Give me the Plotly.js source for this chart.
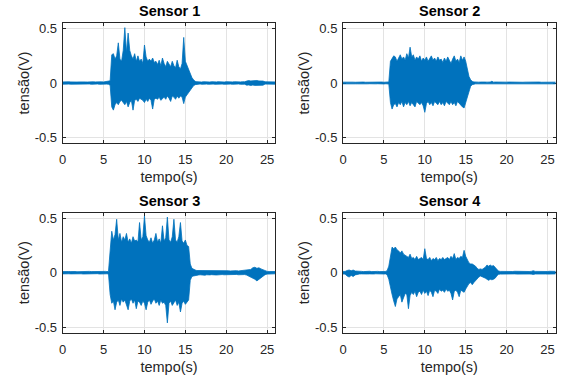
<!DOCTYPE html>
<html>
<head>
<meta charset="utf-8">
<script src="https://cdn.plot.ly/plotly-3.0.1.min.js"></script>
<style>html,body{margin:0;padding:0;background:#fff;}#chart{width:567px;height:380px;}</style>
</head>
<body>
<div id="chart"></div>
<script>
// Time grid (s) at which the signal envelope was read
const time = [0,0.25,0.5,0.75,1,1.25,1.5,1.75,2,2.25,2.5,2.75,3,3.25,3.5,3.75,4,4.25,4.5,4.75,5,5.25,
5.4,5.6,5.8,6,6.2,6.4,6.6,6.8,7,7.2,7.4,7.6,7.8,8,8.2,8.4,8.6,8.8,9,9.2,9.4,9.6,9.8,10,10.2,10.4,10.6,10.8,11,11.2,11.4,11.6,11.8,12,12.2,12.4,12.6,12.8,13,13.2,13.4,13.6,13.8,14,14.2,14.4,14.6,14.8,15,15.2,15.4,15.6,15.8,16,16.2,16.4,16.6,16.8,17,17.2,17.4,17.6,17.8,18,18.2,18.4,18.6,18.8,19,
19.25,19.5,19.75,20,20.25,20.5,20.75,21,21.25,21.5,21.75,22,22.25,22.5,22.75,23,23.25,23.5,23.75,24,24.25,24.5,24.75,25,25.25,25.5,25.75,26];

// Sensor 1 upper / lower envelope (V)
const s1_hi = [0.010,0.012,0.009,0.011,0.010,0.012,0.011,0.009,0.010,0.012,0.011,0.010,0.009,0.012,0.010,0.011,0.010,0.012,0.009,0.011,0.010,0.012,
0.011,0.012,0.02,
0.26,0.27,0.22,0.25,0.37, 0.22,0.2,0.3,0.51,0.28, 0.46,0.3,0.25,0.22,0.27, 0.2,0.25,0.2,0.22,0.18, 0.35,0.24,0.2,0.22,0.2, 0.23,0.19,0.2,0.17,0.21, 0.16,0.23,0.18,0.15,0.2, 0.18,0.15,0.2,0.16,0.14, 0.21,0.15,0.13,0.18,0.42, 0.2,0.16,0.12,0.08,0.05, 0.03,0.015,
0.012,
0.010,0.011,0.009,0.012,0.010,0.011,0.010,0.009,0.012,0.010,0.011,0.010,0.012,
0.010,0.011,0.009,0.012,0.010,0.011,0.010,0.012,0.009,0.011,0.010,0.012,0.011,
0.018,0.022,0.019,0.021,0.02,0.023,0.019,0.021,0.018,
0.011,0.010,0.012,0.010,0.011,0.010];
const s1_lo = [-0.011,-0.009,-0.012,-0.010,-0.011,-0.010,-0.012,-0.009,-0.011,-0.010,-0.012,-0.011,-0.010,-0.009,-0.012,-0.010,-0.011,-0.009,-0.012,-0.010,-0.011,-0.010,
-0.010,-0.012,-0.02,
-0.22,-0.25,-0.2,-0.18,-0.2, -0.17,-0.16,-0.18,-0.2,-0.17, -0.22,-0.18,-0.16,-0.25,-0.16, -0.15,-0.17,-0.14,-0.15,-0.16, -0.18,-0.15,-0.17,-0.14,-0.16, -0.24,-0.15,-0.14,-0.15,-0.13, -0.16,-0.14,-0.13,-0.15,-0.12, -0.14,-0.17,-0.12,-0.13,-0.15, -0.12,-0.14,-0.12,-0.13,-0.19, -0.13,-0.11,-0.09,-0.06,-0.04, -0.025,-0.015,
-0.012,
-0.011,-0.009,-0.012,-0.010,-0.011,-0.010,-0.012,-0.009,-0.011,-0.010,-0.012,-0.010,-0.011,
-0.011,-0.010,-0.012,-0.009,-0.011,-0.010,-0.012,-0.010,-0.011,-0.009,-0.012,-0.010,-0.011,
-0.02,-0.018,-0.023,-0.019,-0.022,-0.02,-0.021,-0.018,-0.02,
-0.010,-0.011,-0.009,-0.011,-0.010,-0.011];

// Sensor 2
const s2_hi = [0.008,0.009,0.007,0.008,0.009,0.008,0.007,0.009,0.008,0.008,0.009,0.007,0.008,0.009,0.008,0.007,0.009,0.008,0.008,0.009,0.007,0.008,
0.01,0.01,0.2,
0.22,0.25,0.24,0.2,0.23, 0.26,0.22,0.24,0.21,0.27, 0.23,0.33,0.24,0.26,0.21, 0.24,0.22,0.25,0.2,0.23, 0.21,0.24,0.2,0.22,0.25, 0.21,0.23,0.2,0.24,0.21, 0.22,0.19,0.23,0.2,0.24, 0.21,0.18,0.22,0.25,0.2, 0.22,0.19,0.25,0.21,0.24, 0.2,0.14,0.06,0.03,0.015, 0.01,0.008,
0.008,
0.008,0.009,0.007,0.008,0.009,0.008,0.007,0.009,0.016,0.008,0.009,0.008,0.008,
0.008,0.009,0.007,0.008,0.009,0.008,0.007,0.009,0.008,0.008,0.009,0.007,0.008,0.009,0.008,0.007,0.009,0.008,0.008,0.009,0.007,0.008,0.009,0.008,0.007,0.009,0.008,0.008];
const s2_lo = [-0.008,-0.007,-0.009,-0.008,-0.007,-0.009,-0.008,-0.008,-0.009,-0.007,-0.008,-0.009,-0.008,-0.007,-0.009,-0.008,-0.008,-0.007,-0.009,-0.008,-0.009,-0.007,
-0.01,-0.01,-0.18,
-0.24,-0.2,-0.19,-0.22,-0.18, -0.2,-0.17,-0.22,-0.18,-0.2, -0.17,-0.21,-0.18,-0.2,-0.22, -0.17,-0.19,-0.2,-0.18,-0.21, -0.27,-0.19,-0.17,-0.2,-0.18, -0.21,-0.17,-0.19,-0.2,-0.17, -0.2,-0.18,-0.21,-0.17,-0.19, -0.2,-0.17,-0.2,-0.18,-0.21, -0.17,-0.19,-0.2,-0.22,-0.23, -0.18,-0.12,-0.06,-0.03,-0.015, -0.01,-0.008,
-0.008,
-0.008,-0.007,-0.009,-0.008,-0.007,-0.009,-0.008,-0.008,-0.01,-0.007,-0.008,-0.009,-0.008,
-0.008,-0.007,-0.009,-0.008,-0.007,-0.009,-0.008,-0.008,-0.009,-0.007,-0.008,-0.009,-0.008,-0.007,-0.009,-0.008,-0.008,-0.007,-0.009,-0.008,-0.009,-0.007,-0.008,-0.009,-0.008,-0.007,-0.009,-0.008];

// Sensor 3
const s3_hi = [0.010,0.012,0.009,0.011,0.010,0.012,0.011,0.009,0.010,0.012,0.011,0.010,0.009,0.012,0.010,0.011,0.010,0.012,0.009,0.011,0.010,0.012,
0.01,0.012,0.2,
0.38,0.3,0.35,0.49,0.3, 0.36,0.28,0.33,0.3,0.36, 0.28,0.31,0.27,0.33,0.29, 0.3,0.28,0.46,0.3,0.33, 0.52,0.34,0.3,0.28,0.32, 0.27,0.3,0.36,0.28,0.31, 0.27,0.43,0.29,0.32,0.51, 0.3,0.28,0.33,0.49,0.3, 0.28,0.33,0.46,0.29,0.27, 0.3,0.25,0.24,0.08,0.04, 0.03,0.025,
0.02,
0.02,0.022,0.018,0.021,0.02,0.023,0.019,0.02,0.022,0.018,0.021,0.02,0.019,
0.018,0.02,0.017,0.019,0.018,0.016,0.018,0.017,0.019,0.016,0.018,0.017,0.018,
0.02,0.025,0.03,0.045,0.05,0.04,0.045,0.035,0.025,0.015,0.012,0.011,0.012,0.01,0.011];
const s3_lo = [-0.011,-0.009,-0.012,-0.010,-0.011,-0.010,-0.012,-0.009,-0.011,-0.010,-0.012,-0.011,-0.010,-0.009,-0.012,-0.010,-0.011,-0.009,-0.012,-0.010,-0.011,-0.010,
-0.01,-0.012,-0.2,
-0.28,-0.26,-0.34,-0.27,-0.25, -0.3,-0.24,-0.27,-0.25,-0.29, -0.34,-0.26,-0.24,-0.28,-0.25, -0.33,-0.26,-0.27,-0.3,-0.26, -0.28,-0.34,-0.27,-0.25,-0.29, -0.26,-0.24,-0.28,-0.26,-0.3, -0.25,-0.28,-0.27,-0.3,-0.46, -0.28,-0.26,-0.3,-0.27,-0.25, -0.3,-0.27,-0.36,-0.28,-0.26, -0.29,-0.27,-0.25,-0.07,-0.035, -0.03,-0.025,
-0.02,
-0.021,-0.019,-0.022,-0.02,-0.023,-0.019,-0.021,-0.02,-0.018,-0.022,-0.02,-0.021,-0.019,
-0.018,-0.017,-0.019,-0.018,-0.016,-0.019,-0.017,-0.018,-0.016,-0.019,-0.017,-0.018,-0.017,
-0.022,-0.03,-0.04,-0.05,-0.06,-0.075,-0.06,-0.05,-0.03,-0.018,-0.013,-0.012,-0.011,-0.012,-0.01];

// Sensor 4
const s4_hi = [0.012,0.011,0.02,0.025,0.018,0.024,0.015,0.012,
0.011,0.012,0.01,0.012,0.011,0.013,0.01,0.012,0.011,0.012,0.01,0.013,0.011,0.012,
0.02,0.06,0.15,
0.235,0.22,0.235,0.21,0.2, 0.18,0.2,0.17,0.16,0.15, 0.14,0.17,0.13,0.14,0.12, 0.15,0.12,0.13,0.14,0.12, 0.22,0.13,0.12,0.14,0.11, 0.13,0.12,0.14,0.11,0.13, 0.12,0.14,0.12,0.13,0.14, 0.12,0.15,0.13,0.175,0.12, 0.14,0.13,0.15,0.14,0.205, 0.15,0.12,0.09,0.08,0.08, 0.07,0.06,0.04,0.03,0.035, 0.03,0.04,0.05,0.07,0.06, 0.07,0.06,0.065,0.05,0.03, 0.015,
0.012,0.011,0.013,0.012,0.01,0.012,0.011,0.013,0.012,0.011,0.012,0.01,0.013,0.012,0.011,0.012,0.018,0.012,0.011,0.013,0.012,0.01,0.012,0.011,0.013,0.012,0.011,0.012];
const s4_lo = [-0.012,-0.013,-0.03,-0.04,-0.025,-0.035,-0.02,-0.013,
-0.012,-0.011,-0.013,-0.01,-0.012,-0.011,-0.013,-0.012,-0.01,-0.012,-0.011,-0.013,-0.012,-0.011,
-0.02,-0.06,-0.14,
-0.2,-0.26,-0.31,-0.24,-0.22, -0.2,-0.27,-0.22,-0.19,-0.2, -0.33,-0.21,-0.18,-0.2,-0.17, -0.22,-0.18,-0.17,-0.2,-0.16, -0.19,-0.17,-0.21,-0.16,-0.18, -0.22,-0.16,-0.17,-0.19,-0.15, -0.17,-0.16,-0.18,-0.15,-0.17, -0.16,-0.19,-0.25,-0.17,-0.16, -0.18,-0.22,-0.16,-0.17,-0.18, -0.15,-0.12,-0.1,-0.09,-0.11, -0.09,-0.07,-0.05,-0.04,-0.03, -0.035,-0.04,-0.05,-0.06,-0.07, -0.06,-0.065,-0.06,-0.05,-0.03, -0.015,
-0.013,-0.012,-0.011,-0.013,-0.012,-0.01,-0.012,-0.011,-0.013,-0.012,-0.011,-0.013,-0.012,-0.01,-0.012,-0.013,-0.016,-0.012,-0.011,-0.013,-0.012,-0.01,-0.012,-0.013,-0.011,-0.012,-0.013,-0.011];

const titles = ['Sensor 1','Sensor 2','Sensor 3','Sensor 4'];
const xTicks = [0,5,10,15,20,25];
const yTicks = [-0.5,0,0.5];
const yTickText = ['-0.5','0','0.5'];

const series = [[s1_hi,s1_lo],[s2_hi,s2_lo],[s3_hi,s3_lo],[s4_hi,s4_lo]];
const FONT = 'Liberation Sans, Arial, Helvetica, sans-serif';
const BLUE = '#0072BD';
const W = 567, H = 380;
// plot boxes in pixels: [left, right, top, bottom]
const boxes = [[62.7,275.3,23.3,142.7],[343,555.7,23.3,142.7],[62.7,275.3,212.7,332.7],[343,555.7,212.7,332.7]];

const traces = [];
const layout = {
  width: W, height: H, margin: {l:0,r:0,t:0,b:0},
  paper_bgcolor: '#ffffff', plot_bgcolor: '#ffffff', showlegend: false,
  annotations: []
};
series.forEach((s, k) => {
  const n = k === 0 ? '' : String(k+1);
  // lower envelope, then upper envelope filled down to it
  traces.push({x: time, y: s[1], type: 'scatter', mode: 'lines',
    line: {color: BLUE, width: 0.8}, xaxis: 'x'+n, yaxis: 'y'+n, hoverinfo: 'skip'});
  traces.push({x: time, y: s[0], type: 'scatter', mode: 'lines', fill: 'tonexty', fillcolor: BLUE,
    line: {color: BLUE, width: 0.8}, xaxis: 'x'+n, yaxis: 'y'+n, hoverinfo: 'skip'});
  const b = boxes[k];
  const common = {showline: true, linecolor: '#262626', linewidth: 1, mirror: 'ticks',
    ticks: 'inside', ticklen: 3, tickcolor: '#262626', tickwidth: 1,
    showgrid: true, gridcolor: '#e3e3e3', gridwidth: 1, zeroline: false, layer: 'below traces',
    tickfont: {family: FONT, size: 13, color: '#262626'}, fixedrange: true};
  layout['xaxis'+n] = Object.assign({}, common, {
    domain: [b[0]/W, b[1]/W], anchor: 'y'+n, range: [0, 26],
    tickmode: 'array', tickvals: xTicks, ticktext: xTicks.map(String), ticklabelstandoff: 5,
    title: {text: 'tempo(s)', font: {family: FONT, size: 14.5, color: '#262626'}, standoff: 5}
  });
  layout['yaxis'+n] = Object.assign({}, common, {
    domain: [1 - b[3]/H, 1 - b[2]/H], anchor: 'x'+n, range: [-0.55, 0.55],
    tickmode: 'array', tickvals: yTicks, ticktext: yTickText, ticklabelstandoff: 2,
    title: {text: 'tensão(V)', font: {family: FONT, size: 14.5, color: '#262626'}, standoff: 1}
  });
  layout.annotations.push({text: '<b>' + titles[k] + '</b>', xref: 'paper', yref: 'paper',
    x: (b[0]+b[1])/2/W, y: 1 - (b[2]-12)/H, xanchor: 'center', yanchor: 'middle', showarrow: false,
    font: {family: FONT, size: 14.5, color: '#000000'}});
});

Plotly.newPlot('chart', traces, layout, {displayModeBar: false, staticPlot: true});
</script>
</body>
</html>
